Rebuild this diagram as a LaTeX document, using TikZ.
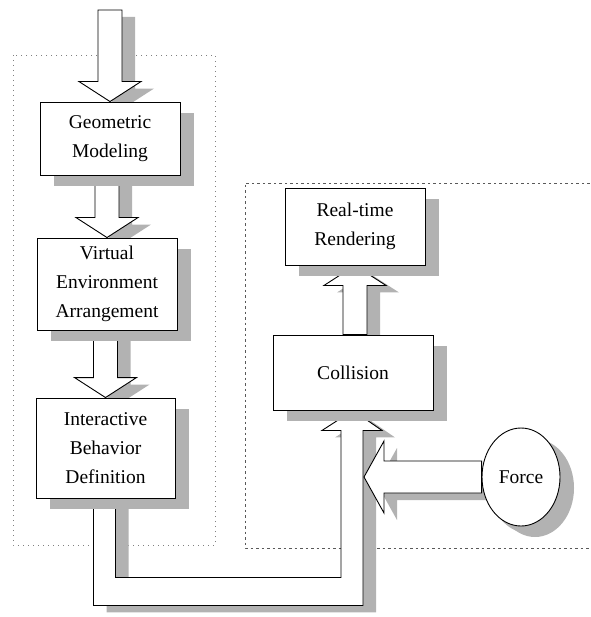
\documentclass[tikz,border=0pt]{standalone}
\usepackage{fontspec}
\setmainfont{Liberation Serif}
\usetikzlibrary{calc,shadows,backgrounds,shapes.geometric}
\tikzset{stage/.style={draw=black,line width=.9pt,fill=white,align=center,inner sep=2pt,font=\fontsize{19.5}{29}\selectfont,drop shadow={shadow xshift=14pt,shadow yshift=-11pt,fill=gray!60,opacity=1}},flow/.style={draw=black,line width=.9pt,fill=white,line join=miter,drop shadow={shadow xshift=13pt,shadow yshift=-7pt,fill=gray!60,opacity=1}},frame/.style={gray,line width=.9pt,dash pattern=on 1pt off 4pt},zone/.style={gray!70!black,line width=.8pt,dash pattern=on 2.5pt off 3pt}}
% block arrow: #1 half shaft, #2 half head, #3 tail, #4 tip
\newcommand{\flow}[4]{%
\path (#3) coordinate (tail) (#4) coordinate (tip) ($(tip)!20pt!(tail)$) coordinate (hb);
\draw[flow] ($(tail)!#1pt!90:(hb)$) -- ($(hb)!#1pt!-90:(tail)$) -- ($(hb)!#2pt!-90:(tail)$) -- (tip) -- ($(hb)!#2pt!90:(tail)$) -- ($(hb)!#1pt!90:(tail)$) -- ($(tail)!#1pt!-90:(hb)$) -- cycle;}

\begin{document}
\begin{tikzpicture}[x=1pt,y=-1pt]
\useasboundingbox (0,0) rectangle (590,617);
\node[stage,minimum width=140pt,minimum height=73pt] (geo) at (110,138.5) {Geometric\\Modeling};
\node[stage,minimum width=140pt,minimum height=92pt] (virt) at (107,284) {Virtual\\Environment\\Arrangement};
\node[stage,minimum width=139pt,minimum height=100pt] (inter) at (105.5,448) {Interactive\\Behavior\\Definition};
\node[stage,minimum width=140pt,minimum height=77pt] (render) at (355,226.5) {Real-time\\Rendering};
\node[stage,minimum width=160pt,minimum height=75pt] (coll) at (353,372.5) {Collision};
\node[stage,ellipse,inner sep=0pt,minimum width=78pt,minimum height=98pt,drop shadow={shadow xshift=7pt,shadow yshift=-7pt,fill=gray!60,opacity=1}] (force) at (521,477) {Force};
\coordinate (in) at (110,10);
\coordinate (merge) at (364,477);
\begin{scope}[on background layer]
\draw[frame] (13,55) rectangle (215,545);
\draw[zone] (595,183) -- (245,183) -- (245,548) -- (595,548);
\flow{12}{31}{in}{geo.north}
\flow{12}{31}{virt.north |- geo.south}{virt.north}
\flow{12}{31}{inter.north |- virt.south}{inter.north}
\flow{12}{31}{render.south |- coll.north}{render.south}
\draw[flow] ($(inter.south)+(-12,0)$) -- ($(inter.south)+(-12,107)$) -- ($(coll.south)+(10,195)$) -- ($(coll.south)+(10,20)$) -- ($(coll.south)+(29,20)$) -- (coll.south) -- ($(coll.south)+(-31,20)$) -- ($(coll.south)+(-12,20)$) -- ($(coll.south)+(-12,167)$) -- ($(inter.south)+(10,79)$) -- ($(inter.south)+(10,0)$) -- cycle;
\flow{16}{36}{force.west}{merge}
\end{scope}
\end{tikzpicture}
\end{document}
